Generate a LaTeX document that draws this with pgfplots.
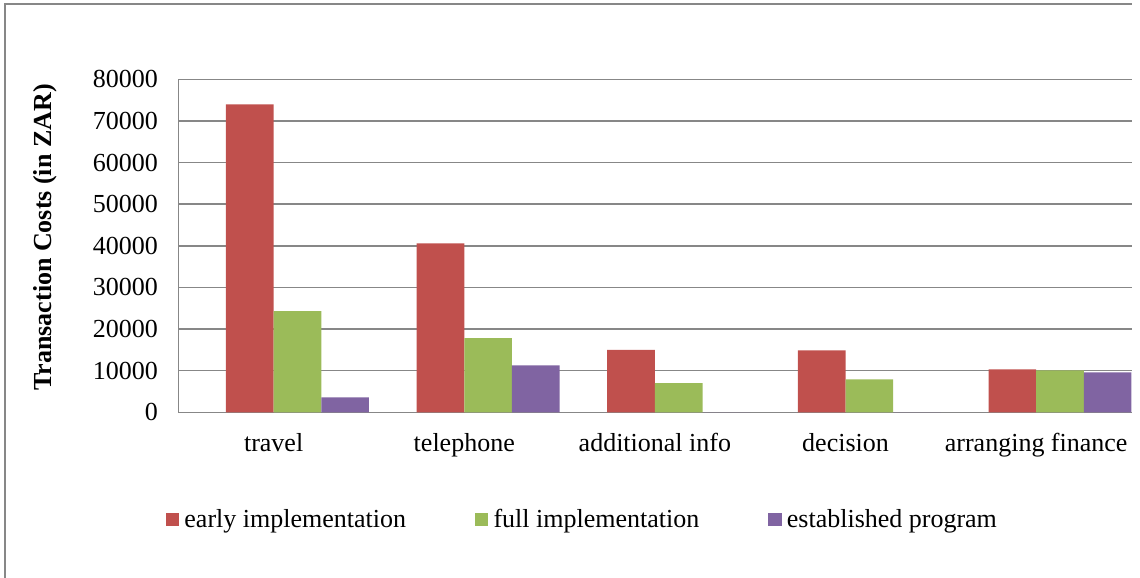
\documentclass[border=0pt]{standalone}
\usepackage{pgfplots}
\pgfplotsset{compat=1.18}
\usepackage{fontspec}
\setmainfont{Liberation Serif}
\definecolor{cred}{HTML}{C0504D}
\definecolor{cgreen}{HTML}{9BBB59}
\definecolor{cpurple}{HTML}{8064A2}
\definecolor{cgrid}{HTML}{878787}
\begin{document}
\begin{tikzpicture}
\useasboundingbox (0pt,0pt) rectangle (1140pt,578pt);
\draw[cgrid,line width=1.5pt] (5pt,-2pt) -- (5pt,574pt) -- (1132pt,574pt);
\begin{axis}[
  at={(178.3pt,165.7pt)}, anchor=south west,
  scale only axis, width=953.2pt, height=333pt,
  ybar=0pt, bar width=47.65pt,
  xmin=-0.5, xmax=4.5, ymin=0, ymax=80000,
  xtick={0,1,2,3,4},
  xticklabels={travel,telephone,additional info,decision,arranging finance},
  ytick={0,10000,...,80000},
  scaled y ticks=false,
  /pgf/number format/fixed,
  /pgf/number format/1000 sep={},
  /pgf/number format/assume math mode=true,
  major tick length=0pt,
  ymajorgrids, grid style={cgrid,line width=1.5pt},
  axis line style={cgrid,line width=1.5pt},
  axis x line*=bottom, axis y line*=left,
  ticklabel style={font=\fontsize{26}{30}\selectfont},
  yticklabel style={xshift=-17pt},
  xticklabel style={anchor=base, yshift=-39.7pt},
  ylabel={\textbf{Transaction Costs (in ZAR)}},
  ylabel style={font=\fontsize{26}{30}\selectfont, at={(axis description cs:-0.1398,0.525)}, anchor=center},
  legend columns=3,
  legend style={draw=none, fill=none, font=\fontsize{26}{30}\selectfont,
    at={(axis description cs:0.424,-0.322)}, anchor=center,
    /tikz/every even column/.append style={column sep=67pt},
    inner sep=0pt},
  legend image code/.code={\fill[#1] (0pt,-6.65pt) rectangle (13.3pt,6.65pt); \path (16.5pt,0pt);},
  legend cell align=left,
  clip=false,
]
\addplot[fill=cred, draw=none, bar shift=-23.83pt] coordinates {(0,74000) (1,40600) (2,15000) (3,14900) (4,10300)};
\addplot[fill=cgreen, draw=none, bar shift=23.83pt] coordinates {(0,24300) (1,17800) (2,7000) (3,7900) (4,10100)};
\addplot[fill=cpurple, draw=none, bar shift=71.48pt] coordinates {(0,3600) (1,11300) (2,0) (3,0) (4,9600)};
\legend{early implementation, full implementation, established program}
\end{axis}
\end{tikzpicture}
\end{document}
